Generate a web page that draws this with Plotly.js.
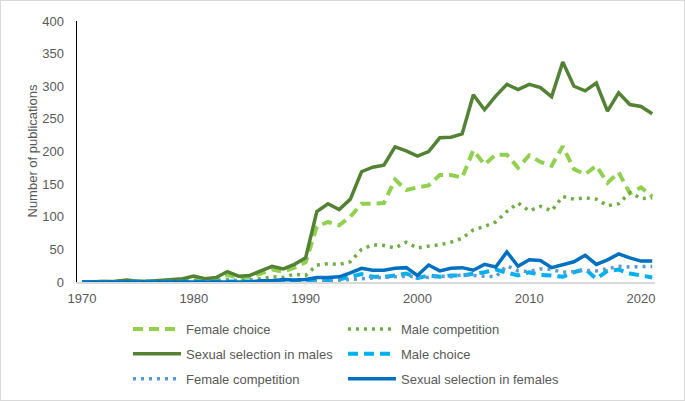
<!DOCTYPE html>
<html>
<head>
<meta charset="utf-8">
<script src="https://cdn.plot.ly/plotly-3.0.1.min.js"></script>
<style>
html, body { margin: 0; padding: 0; background: #fff; }
#wrap { position: relative; width: 685px; height: 401px; }
#chart { width: 685px; height: 401px; }
#frame { position: absolute; left: 0; top: 0; width: 685px; height: 401px; box-sizing: border-box; border: 1px solid #d9d9d9; pointer-events: none; }
</style>
</head>
<body>
<div id="wrap"><div id="chart"></div><div id="frame"></div></div>
<script>
const years = [];
for (let y = 1970; y <= 2021; y++) years.push(y);

const seriesNames = ["Female choice", "Male competition", "Sexual selection in males", "Male choice", "Female competition", "Sexual selection in females"];
const yTitle = "Number of publications";

const femaleChoice = [0,0,0,0,1,0,0,1,2,3, 6,3,5,11,6,8,13,19,16,22, 30,85,92,87,100,120,120,121,157,141, 145,148,164,164,160,202,180,195,195,175, 194,184,178,208,173,165,178,152,168,136, 145,131];
const maleCompetition = [0,0,0,0,0,0,0,0,0,1, 2,1,2,4,2,3,5,8,7,12, 10,26,28,27,31,50,57,56,52,61, 52,55,57,61,67,80,85,92,108,121, 109,116,109,131,127,129,127,117,120,137, 128,129];
const ssMales = [0,0,0,1,3,1,1,2,3,5, 9,5,7,16,9,10,17,24,20,27, 37,108,120,111,127,169,176,179,207,201, 193,200,221,222,227,287,264,285,303,295, 303,298,284,337,300,293,305,262,290,272, 269,258];
const maleChoice = [0,0,0,0,0,0,0,0,0,0, 0,0,0,0,0,0,0,0,1,1, 1,2,3,4,8,12,8,8,10,13, 6,10,8,10,10,12,15,19,15,10, 15,11,10,8,15,20,5,17,19,13, 10,7];
const femaleCompetition = [0,0,0,0,0,0,0,0,0,0, 0,0,0,0,0,0,0,0,1,1, 1,2,2,3,4,5,6,7,7,9, 8,7,9,8,11,10,9,8,25,17, 16,20,19,15,16,18,17,20,24,23, 23,24];
const ssFemales = [0,0,0,0,0,0,0,0,0,0, 1,0,0,1,0,0,2,2,4,3, 4,7,7,8,14,21,18,18,21,22, 10,26,17,21,22,18,27,23,46,24, 34,33,22,27,31,41,27,34,43,37, 32,32];

const yTickVals = [0,50,100,150,200,250,300,350,400];
const xTickVals = [1970,1980,1990,2000,2010,2020];

const seriesData = [femaleChoice, maleCompetition, ssMales, maleChoice, femaleCompetition, ssFemales];
const colors = ["#92D050", "#70AD47", "#548235", "#00B0F0", "#5B9BD5", "#0070C0"];
const dashes = ["10px,6px", "3px,5px", "solid", "10px,6px", "3px,5px", "solid"];
const widths = [4, 3.5, 3.5, 4, 3.5, 3.5];
const legendOf = ["legend", "legend2", "legend", "legend2", "legend", "legend2"];

const traces = seriesData.map((vals, i) => ({
  type: "scatter",
  mode: "lines",
  x: years,
  y: vals,
  name: seriesNames[i],
  legend: legendOf[i],
  legendgroup: "g" + i,
  line: { color: colors[i], width: widths[i], dash: dashes[i] },
  hoverinfo: "x+y+name"
}));

const fontFam = "Liberation Sans, Arial, Helvetica, sans-serif";
const legendCommon = {
  orientation: "v",
  xref: "container", yref: "container",
  xanchor: "left", yanchor: "top",
  itemwidth: 48,
  tracegroupgap: 5,
  bgcolor: "rgba(0,0,0,0)",
  borderwidth: 0,
  font: { family: fontFam, size: 13, color: "#595959" }
};

const layout = {
  width: 685, height: 401,
  margin: { l: 77, r: 30, t: 21, b: 119, pad: 0, autoexpand: false },
  paper_bgcolor: "#ffffff",
  plot_bgcolor: "#ffffff",
  font: { family: fontFam, size: 13, color: "#595959" },
  showlegend: true,
  xaxis: {
    range: [1969.55, 2021.25],
    tickvals: xTickVals,
    ticktext: xTickVals.map(String),
    showgrid: false, zeroline: false,
    showline: true, linecolor: "#d9d9d9", linewidth: 1.5,
    ticks: "", ticklabelstandoff: 4,
    tickfont: { family: fontFam, size: 13, color: "#595959" },
    automargin: false
  },
  yaxis: {
    range: [0, 400],
    tickvals: yTickVals,
    ticktext: yTickVals.map(String),
    showgrid: false, zeroline: false,
    showline: true, linecolor: "#000000", linewidth: 1.5,
    ticks: "", ticklabelstandoff: 9,
    tickfont: { family: fontFam, size: 13, color: "#595959" },
    automargin: false
  },
  annotations: [{
    text: yTitle,
    xref: "paper", yref: "paper",
    x: (32 - 77) / 578, y: 0.5,
    xanchor: "center", yanchor: "middle",
    textangle: -90,
    showarrow: false,
    font: { family: fontFam, size: 13, color: "#595959" }
  }],
  legend: Object.assign({}, legendCommon, { x: 128/685, y: 1 - 314/401 }),
  legend2: Object.assign({}, legendCommon, { x: 343/685, y: 1 - 314/401 })
};

Plotly.newPlot("chart", traces, layout, { displayModeBar: false, staticPlot: true });
</script>
</body>
</html>
